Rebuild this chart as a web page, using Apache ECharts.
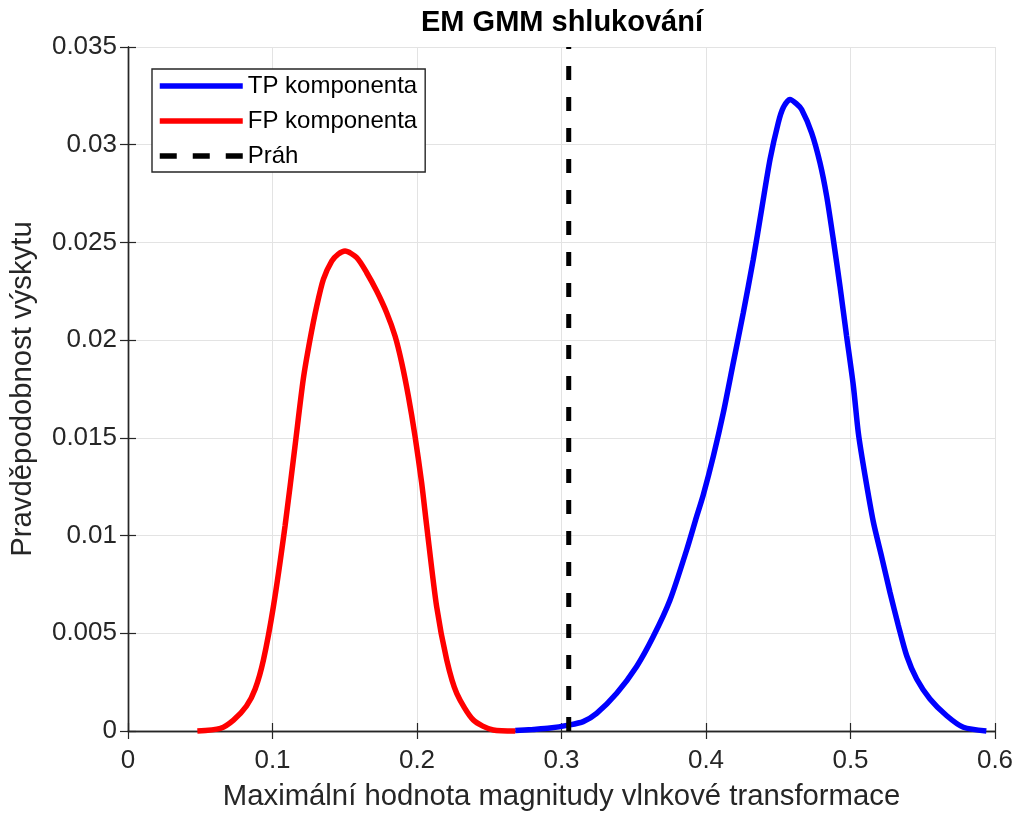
<!DOCTYPE html>
<html>
<head>
<meta charset="utf-8">
<script src="https://cdn.jsdelivr.net/npm/echarts@6/dist/echarts.min.js"></script>
<style>html,body{margin:0;padding:0;background:#fff}#c{width:1019px;height:816px}</style>
</head>
<body>
<div id="c"></div>
<script>
const titleText = 'EM GMM shlukování';
const xName = 'Maximální hodnota magnitudy vlnkové transformace';
const yName = 'Pravděpodobnost výskytu';
const seriesNames = ['TP komponenta', 'FP komponenta', 'Práh'];

const tpX = [0.268, 0.280, 0.292, 0.3047, 0.315, 0.3243, 0.3382, 0.352, 0.3635, 0.3751, 0.3866, 0.3935, 0.3981, 0.4051, 0.412, 0.4189, 0.4258, 0.4327, 0.4385, 0.4443, 0.450, 0.4535, 0.4581, 0.4625, 0.4662, 0.4731, 0.4789, 0.4835, 0.4881, 0.4927, 0.4973, 0.502, 0.5055, 0.510, 0.5158, 0.5216, 0.5273, 0.5331, 0.5389, 0.5458, 0.555, 0.5666, 0.5781, 0.594];
const tpY = [0.00002, 0.00008, 0.00015, 0.0003, 0.00048, 0.0009, 0.00193, 0.0033, 0.00483, 0.0067, 0.00926, 0.01097, 0.01208, 0.01407, 0.01629, 0.01885, 0.0214, 0.02413, 0.02669, 0.02924, 0.03112, 0.0319, 0.03231, 0.0321, 0.0318, 0.03061, 0.02907, 0.02737, 0.02515, 0.02277, 0.02021, 0.01765, 0.0152, 0.0131, 0.0107, 0.0089, 0.0071, 0.0054, 0.00385, 0.00266, 0.00164, 0.00078, 0.00019, 0.0];

const fpX = [0.048, 0.064, 0.073, 0.082, 0.088, 0.0937, 0.1006, 0.1087, 0.1156, 0.1213, 0.126, 0.1306, 0.1352, 0.141, 0.1455, 0.1502, 0.1583, 0.1652, 0.1721, 0.179, 0.1848, 0.1894, 0.194, 0.1986, 0.2032, 0.2067, 0.2136, 0.2206, 0.2275, 0.239, 0.2528, 0.268];
const fpY = [0.0, 0.00014, 0.00056, 0.00128, 0.00215, 0.00363, 0.00636, 0.0105, 0.01459, 0.018, 0.02004, 0.02174, 0.02311, 0.02404, 0.0244, 0.02456, 0.02422, 0.02345, 0.02251, 0.0214, 0.02021, 0.01885, 0.01714, 0.0151, 0.01271, 0.0105, 0.00636, 0.00363, 0.00193, 0.00056, 0.00005, 0.0];

const thresholdX = [0.305, 0.305];
const thresholdY = [0, 0.035];

const xMin = 0, xMax = 0.6, xStep = 0.1;
const yMin = 0, yMax = 0.035, yStep = 0.005;

const zip = (a, b) => a.map((v, i) => [v, b[i]]);

const FONT = "'Liberation Sans', Arial, Helvetica, sans-serif";
const AX = '#262626';
const GRID = '#e3e3e3';

const chart = echarts.init(document.getElementById('c'), null, {renderer: 'canvas'});

const baseAxisLine = {show: true, lineStyle: {color: AX, width: 1.4}};
const tick = {show: true, inside: true, length: 8, lineStyle: {color: AX, width: 1.2}};

chart.setOption({
  animation: false,
  backgroundColor: '#fff',
  title: {
    text: titleText,
    left: 557, textAlign: 'center', top: 3,
    textStyle: {fontFamily: FONT, fontSize: 29, fontWeight: 'bold', color: '#000'}
  },
  grid: {left: 128, right: 24, top: 47, bottom: 85, containLabel: false},
  legend: {
    data: [
      {name: seriesNames[0]},
      {name: seriesNames[1]},
      {name: seriesNames[2], lineStyle: {type: [17, 16]}}
    ],
    orient: 'vertical',
    left: 152, top: 69,
    padding: [5, 8, 4, 5],
    itemGap: 11,
    itemWidth: 83, itemHeight: 14,
    backgroundColor: '#fff',
    borderColor: AX, borderWidth: 1.4, borderRadius: 0,
    itemStyle: {opacity: 0},
    lineStyle: {width: 5.5},
    textStyle: {fontFamily: FONT, fontSize: 24, lineHeight: 24, color: '#000'}
  },
  xAxis: [{
    type: 'value', min: xMin, max: xMax, interval: xStep,
    name: xName, nameLocation: 'middle', nameGap: 51,
    nameTextStyle: {fontFamily: FONT, fontSize: 29.3, color: AX},
    axisLine: baseAxisLine, axisTick: tick,
    axisLabel: {fontFamily: FONT, fontSize: 26, color: AX, margin: 17},
    splitLine: {show: true, lineStyle: {color: GRID, width: 1}}
  }, {
    type: 'value', position: 'top', min: xMin, max: xMax, interval: xStep,
    axisLine: baseAxisLine, axisTick: tick, axisLabel: {show: false}, splitLine: {show: false}
  }],
  yAxis: [{
    type: 'value', min: yMin, max: yMax, interval: yStep,
    name: yName, nameLocation: 'middle', nameGap: 91, nameRotate: 90,
    nameTextStyle: {fontFamily: FONT, fontSize: 29.3, color: AX},
    axisLine: baseAxisLine, axisTick: tick,
    axisLabel: {fontFamily: FONT, fontSize: 26, color: AX, margin: 11},
    splitLine: {show: true, lineStyle: {color: GRID, width: 1}}
  }, {
    type: 'value', position: 'right', min: yMin, max: yMax, interval: yStep,
    axisLine: baseAxisLine, axisTick: tick, axisLabel: {show: false}, splitLine: {show: false}
  }],
  series: [{
    name: seriesNames[0], type: 'line', data: zip(tpX, tpY),
    symbol: 'none', smooth: 0.25, clip: false,
    lineStyle: {color: '#0000ff', width: 5.5}, itemStyle: {color: '#0000ff'}, z: 3
  }, {
    name: seriesNames[1], type: 'line', data: zip(fpX, fpY),
    symbol: 'none', smooth: 0.25, clip: false,
    lineStyle: {color: '#ff0000', width: 5.5}, itemStyle: {color: '#ff0000'}, z: 3
  }, {
    name: seriesNames[2], type: 'line', data: zip(thresholdX, thresholdY),
    symbol: 'none', clip: false,
    lineStyle: {color: '#000', width: 5, type: [14, 17]}, itemStyle: {color: '#000'}, z: 4
  }]
});
</script>
</body>
</html>
